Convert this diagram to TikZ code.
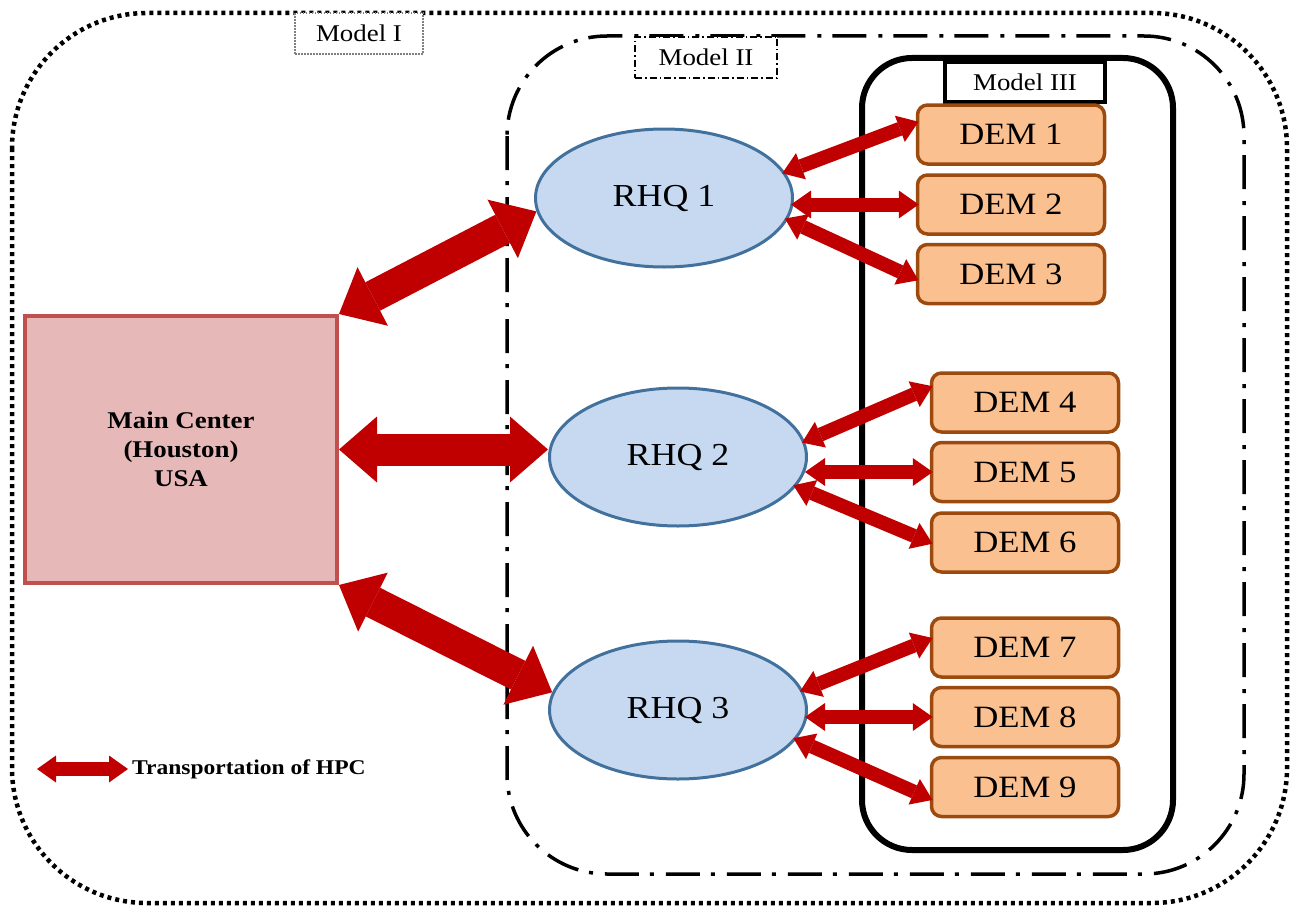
\documentclass[tikz,border=0pt]{standalone}
\usepackage{fontspec}
\setmainfont{Liberation Serif}[FakeStretch=1.12]
\usetikzlibrary{arrows.meta,shapes.geometric}
\definecolor{arrred}{HTML}{C00000}
\definecolor{mcfill}{HTML}{E6B9B8}
\definecolor{mcdraw}{HTML}{C0504D}
\definecolor{rhqfill}{HTML}{C6D9F0}
\definecolor{rhqdraw}{HTML}{41719C}
\definecolor{demfill}{HTML}{FAC090}
\definecolor{demdraw}{HTML}{9C4A0E}
\tikzset{
  outerbox/.style={line width=4.5pt, dash pattern=on 4pt off 4pt, rounded corners=135pt},
  midbox/.style={line width=3.5pt, dash pattern=on 34pt off 11pt on 4pt off 12pt, rounded corners=100pt},
  innerbox/.style={line width=6pt, rounded corners=50pt},
  labone/.style={draw=gray, line width=1.2pt, dash pattern=on 1.5pt off 1.5pt, fill=white,
    minimum width=128pt, minimum height=41pt, inner sep=0pt, font=\fontsize{24}{28}\selectfont},
  labtwo/.style={draw=black, line width=1.2pt, dash pattern=on 7pt off 3pt on 1.5pt off 3pt, fill=white,
    minimum width=142pt, minimum height=41pt, inner sep=0pt, font=\fontsize{24}{28}\selectfont},
  labthree/.style={draw=black, line width=4pt, fill=white,
    minimum width=160pt, minimum height=40pt, inner sep=0pt, font=\fontsize{24}{28}\selectfont},
  mainbox/.style={draw=mcdraw, fill=mcfill, line width=4pt, minimum width=312pt, minimum height=267pt,
    inner sep=0pt, align=center, font=\fontsize{24}{29}\selectfont\bfseries},
  rhq/.style={ellipse, draw=rhqdraw, fill=rhqfill, line width=3pt, minimum width=257pt,
    minimum height=138pt, inner sep=0pt, font=\fontsize{32}{38}\selectfont},
  dem/.style={draw=demdraw, fill=demfill, line width=3.5pt, rounded corners=10pt,
    minimum width=187pt, minimum height=59pt, inner sep=0pt, font=\fontsize{31}{37}\selectfont},
  bigarr/.style={draw=arrred, line width=32pt,
    {Triangle[width=66pt,length=38pt,line width=0pt]}-{Triangle[width=66pt,length=38pt,line width=0pt]}},
  smallarr/.style={draw=arrred, line width=14pt, shorten <=-3pt, shorten >=-3pt,
    {Triangle[width=28pt,length=20pt,line width=0pt]}-{Triangle[width=28pt,length=20pt,line width=0pt]}},
  legarr/.style={draw=arrred, line width=14pt,
    {Triangle[width=27pt,length=19pt,line width=0pt]}-{Triangle[width=27pt,length=19pt,line width=0pt]}}
}
\begin{document}
\begin{tikzpicture}[x=1pt,y=-1pt]
\useasboundingbox (0,0) rectangle (1291,907);
% containers
\draw[outerbox] (12,13) rectangle (1287,903);
\draw[midbox] (507,36) rectangle (1244,874);
\draw[innerbox] (862,58) rectangle (1173,850);
% labels
\node[labone] (m1) at (359,33.5) {Model I};
\node[labtwo] (m2) at (706,57.5) {Model II};
\node[labthree] (m3) at (1025,82) {Model III};
% main nodes
\node[mainbox] (mc) at (181,449.5) {Main Center\\(Houston)\\USA};
\node[rhq] (rhq1) at (664,198) {RHQ 1};
\node[rhq] (rhq2) at (678,457) {RHQ 2};
\node[rhq] (rhq3) at (678,710) {RHQ 3};
\node[dem] (dem1) at (1011,134.5) {DEM 1};
\node[dem] (dem2) at (1011,204.5) {DEM 2};
\node[dem] (dem3) at (1011,274) {DEM 3};
\node[dem] (dem4) at (1025,402.5) {DEM 4};
\node[dem] (dem5) at (1025,472) {DEM 5};
\node[dem] (dem6) at (1025,542.5) {DEM 6};
\node[dem] (dem7) at (1025,647.5) {DEM 7};
\node[dem] (dem8) at (1025,717) {DEM 8};
\node[dem] (dem9) at (1025,787) {DEM 9};
% big arrows
\draw[bigarr] (mc.north east) -- (rhq1.186);
\draw[bigarr] (mc.east) -- (mc.east -| rhq2.west);
\draw[bigarr] (mc.south east) -- (rhq3.172);
% small arrows
\draw[smallarr] (rhq1.12) -- (dem1.173);
\draw[smallarr] (dem2.west -| rhq1.east) -- (dem2.west);
\draw[smallarr] (rhq1.350) -- (dem3.183);
\draw[smallarr] (rhq2.7) -- (dem4.171);
\draw[smallarr] (dem5.west -| rhq2.east) -- (dem5.west);
\draw[smallarr] (rhq2.346) -- (dem6.west);
\draw[smallarr] (rhq3.9) -- (dem7.175);
\draw[smallarr] (dem8.west -| rhq3.east) -- (dem8.west);
\draw[smallarr] (rhq3.346) -- (dem9.187);
% legend
\coordinate (lg1) at (37,769);
\coordinate (lg2) at (128,769);
\draw[legarr] (lg1) -- (lg2);
\node[anchor=west, inner sep=0pt, font=\fontsize{21}{25}\selectfont\bfseries] (leg) at (132,769) {Transportation of HPC};
\end{tikzpicture}
\end{document}
